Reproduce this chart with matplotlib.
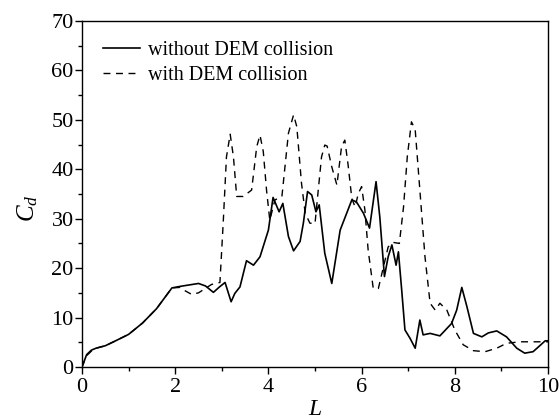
import matplotlib.pyplot as plt
from matplotlib.ticker import MultipleLocator

plt.rcParams['font.family'] = ['Liberation Serif', 'DejaVu Serif']
plt.rcParams['mathtext.fontset'] = 'custom'
plt.rcParams['mathtext.it'] = 'Liberation Serif:italic'
plt.rcParams['mathtext.rm'] = 'Liberation Serif'

# without DEM collision (solid)
L_solid = [0.0, 0.1, 0.2, 0.3, 0.5, 0.7, 1.0, 1.3, 1.6, 1.93, 2.1, 2.3, 2.5,
           2.65, 2.82, 2.95, 3.07, 3.2, 3.28, 3.39, 3.53, 3.68, 3.82, 4.0,
           4.1, 4.23, 4.31, 4.43, 4.54, 4.68, 4.75, 4.84, 4.93, 5.02, 5.09,
           5.21, 5.36, 5.54, 5.79, 5.89, 6.04, 6.17, 6.31, 6.39, 6.49, 6.57,
           6.65, 6.74, 6.79, 6.86, 6.93, 7.04, 7.15, 7.25, 7.32, 7.47, 7.68,
           7.93, 8.04, 8.15, 8.26, 8.4, 8.58, 8.72, 8.9, 9.11, 9.33, 9.5,
           9.68, 9.94, 10.0]
Cd_solid = [0.0, 2.5, 3.4, 3.8, 4.3, 5.2, 6.6, 8.9, 11.8, 16.0, 16.3, 16.6, 16.9,
            16.4, 15.1, 16.2, 17.1, 13.2, 14.9, 16.2, 21.5, 20.6, 22.3, 27.7,
            34.3, 31.4, 33.1, 26.4, 23.5, 25.4, 29.1, 35.5, 34.8, 31.4, 32.8,
            23.0, 16.9, 27.7, 33.8, 33.4, 31.1, 28.1, 37.5, 30.4, 18.3, 22.3,
            24.7, 20.6, 23.3, 15.6, 7.5, 5.8, 3.8, 9.5, 6.5, 6.8, 6.3,
            8.8, 11.5, 16.1, 12.2, 6.8, 6.1, 6.9, 7.3, 6.1, 3.8, 2.8,
            3.1, 5.3, 5.3]

# with DEM collision (dashed)
L_dash = [0.0, 0.1, 0.2, 0.3, 0.5, 0.7, 1.0, 1.3, 1.6, 1.93, 2.1, 2.18, 2.35,
          2.5, 2.78, 2.96, 3.03, 3.1, 3.18, 3.25, 3.32, 3.46, 3.64, 3.75,
          3.82, 3.89, 3.96, 4.03, 4.14, 4.29, 4.43, 4.54, 4.61, 4.71, 4.79,
          4.89, 5.0, 5.07, 5.14, 5.21, 5.26, 5.36, 5.47, 5.57, 5.64, 5.71,
          5.79, 5.86, 5.93, 6.0, 6.07, 6.14, 6.25, 6.36, 6.47, 6.57, 6.68,
          6.81, 6.9, 6.98, 7.07, 7.15, 7.25, 7.36, 7.47, 7.58, 7.68, 7.83,
          8.0, 8.18, 8.4, 8.65, 8.9, 9.11, 9.4, 9.94, 10.0]
Cd_dash = [0.0, 2.3, 3.2, 3.8, 4.3, 5.2, 6.6, 8.9, 11.8, 16.0, 16.1, 15.6, 14.7,
           15.0, 16.7, 17.1, 29.1, 42.5, 47.1, 42.5, 34.5, 34.5, 35.8, 44.6,
           46.9, 43.6, 35.8, 29.7, 33.8, 34.5, 47.3, 51.0, 48.6, 37.2, 31.1,
           29.1, 29.0, 35.8, 42.5, 44.9, 44.7, 40.5, 36.8, 44.6, 45.9, 40.9,
           34.1, 32.4, 35.1, 36.5, 31.8, 23.7, 15.9, 15.9, 20.3, 24.3, 25.2,
           25.0, 32.4, 42.5, 49.6, 48.0, 35.8, 22.3, 12.9, 11.5, 12.9, 11.5,
           7.5, 4.5, 3.3, 3.1, 3.8, 4.8, 5.1, 5.1, 5.1]

fig = plt.figure(figsize=(5.6, 4.19), dpi=100)
ax = fig.add_axes([0.1464, 0.1241, 0.8322, 0.8258])

ax.plot(L_solid, Cd_solid, color='black', linestyle='-', linewidth=1.2,
        label='without DEM collision')
ax.plot(L_dash, Cd_dash, color='black', linestyle=(0, (5, 4)), linewidth=1.0,
        label='with DEM collision')

ax.set_xlim(0, 10)
ax.set_ylim(0, 70)
ax.xaxis.set_major_locator(MultipleLocator(2))
ax.xaxis.set_minor_locator(MultipleLocator(1))
ax.yaxis.set_major_locator(MultipleLocator(10))
ax.yaxis.set_minor_locator(MultipleLocator(5))
ax.tick_params(which='major', direction='out', length=5, width=1.0, labelsize=16)
ax.tick_params(axis='x', which='major', pad=3)
ax.tick_params(axis='y', which='major', pad=1)
ax.tick_params(which='minor', direction='out', length=3, width=1.0)
for s in ax.spines.values():
    s.set_linewidth(1.0)

ax.set_xlabel('$L$', fontsize=17, labelpad=1)
ax.set_ylabel('$C_d$', fontsize=18)
ax.yaxis.set_label_coords(-0.09, 0.46)

ax.legend(loc='upper left', frameon=False, fontsize=14.5, handlelength=1.85,
          handletextpad=0.4, borderaxespad=0.0, labelspacing=0.3,
          bbox_to_anchor=(0.028, 0.965))

fig.savefig('out.png', dpi=100)
